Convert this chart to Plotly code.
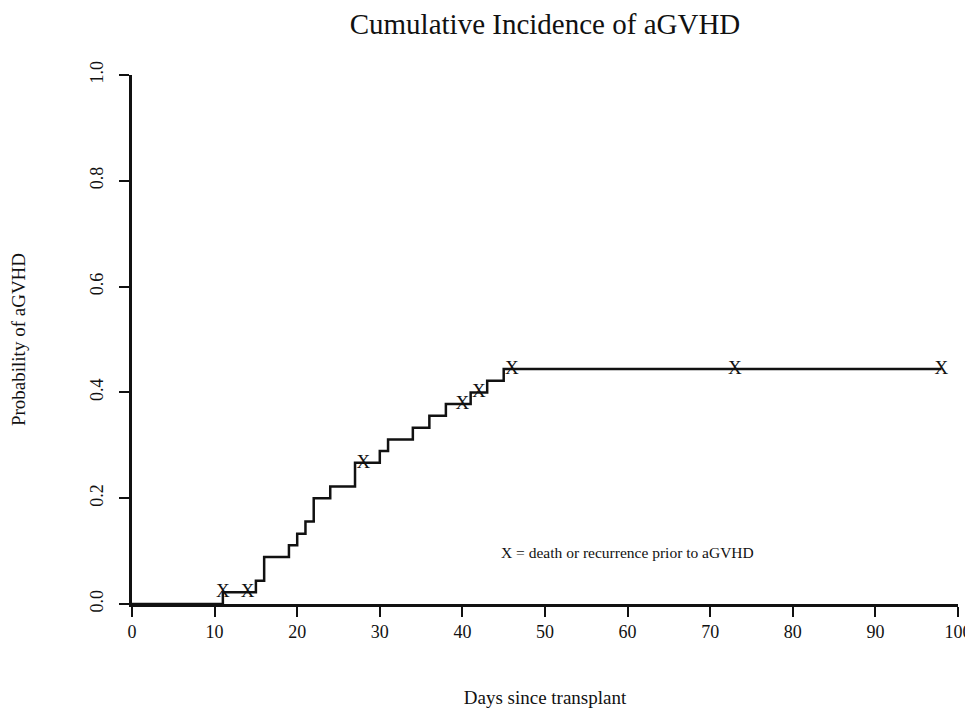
import plotly.graph_objects as go

# Step-curve data (cumulative incidence)
event_days = [0, 11, 15, 16, 19, 20, 21, 22, 24, 27, 30, 31, 34, 36, 38, 41, 43, 45, 98]
cum_incidence = [0, 0.022, 0.044, 0.089, 0.111, 0.133, 0.156, 0.200, 0.222, 0.267,
                 0.289, 0.311, 0.333, 0.356, 0.378, 0.400, 0.422, 0.444, 0.444]

# Censoring marks (death or recurrence prior to aGVHD)
censor_days = [11, 14, 28, 40, 42, 46, 73, 98]
censor_prob = [0.022, 0.022, 0.267, 0.378, 0.400, 0.444, 0.444, 0.444]

x_ticks = [0, 10, 20, 30, 40, 50, 60, 70, 80, 90, 100]
y_ticks = [0.0, 0.2, 0.4, 0.6, 0.8, 1.0]
y_tick_labels = ["0.0", "0.2", "0.4", "0.6", "0.8", "1.0"]

FONT = "Liberation Serif"
INK = "#111111"

# the page places the figure 8px in from the top-left corner
W, H = 965, 702

fig = go.Figure()
fig.add_trace(go.Scatter(
    x=event_days, y=cum_incidence, mode="lines",
    line=dict(shape="hv", color=INK, width=2.5),
    hoverinfo="skip", showlegend=False, cliponaxis=False,
))
fig.add_trace(go.Scatter(
    x=censor_days, y=censor_prob, mode="text", text=["X"] * len(censor_days),
    textposition="middle center",
    textfont=dict(family=FONT, size=19, color=INK),
    showlegend=False, cliponaxis=False,
))

fig.add_annotation(
    x=60, y=0.098, xref="x", yref="y", text="X = death or recurrence prior to aGVHD",
    showarrow=False, font=dict(family=FONT, size=15.5, color=INK),
)

fig.update_layout(
    width=W, height=H,
    margin=dict(l=124, r=15, t=67, b=106),
    paper_bgcolor="white", plot_bgcolor="white",
    font=dict(family=FONT, color=INK),
    title=dict(text="Cumulative Incidence of aGVHD", x=537 / W, xanchor="center",
               y=1 - 16 / H, yanchor="middle",
               font=dict(family=FONT, size=29, color=INK)),
    xaxis=dict(
        range=[0, 100], tickvals=x_ticks, ticks="outside", ticklen=10, tickwidth=2,
        tickcolor=INK, showline=True, linecolor=INK, linewidth=2.5, showgrid=False,
        zeroline=False, automargin=False, tickfont=dict(family=FONT, size=18, color=INK),
        title=dict(text="Days since transplant", font=dict(family=FONT, size=19, color=INK),
                   standoff=50),
    ),
    yaxis=dict(
        range=[0, 1], tickvals=y_ticks, ticktext=y_tick_labels, ticks="outside", ticklen=10,
        tickwidth=2, tickcolor=INK, showline=True, linecolor=INK, linewidth=2.5,
        showgrid=False, zeroline=False, tickangle=-90, automargin=False,
        ticklabelstandoff=9,
        tickfont=dict(family=FONT, size=18, color=INK),
        title=dict(text="Probability of aGVHD", font=dict(family=FONT, size=19, color=INK),
                   standoff=60),
    ),
)

fig.write_html("out.html")
